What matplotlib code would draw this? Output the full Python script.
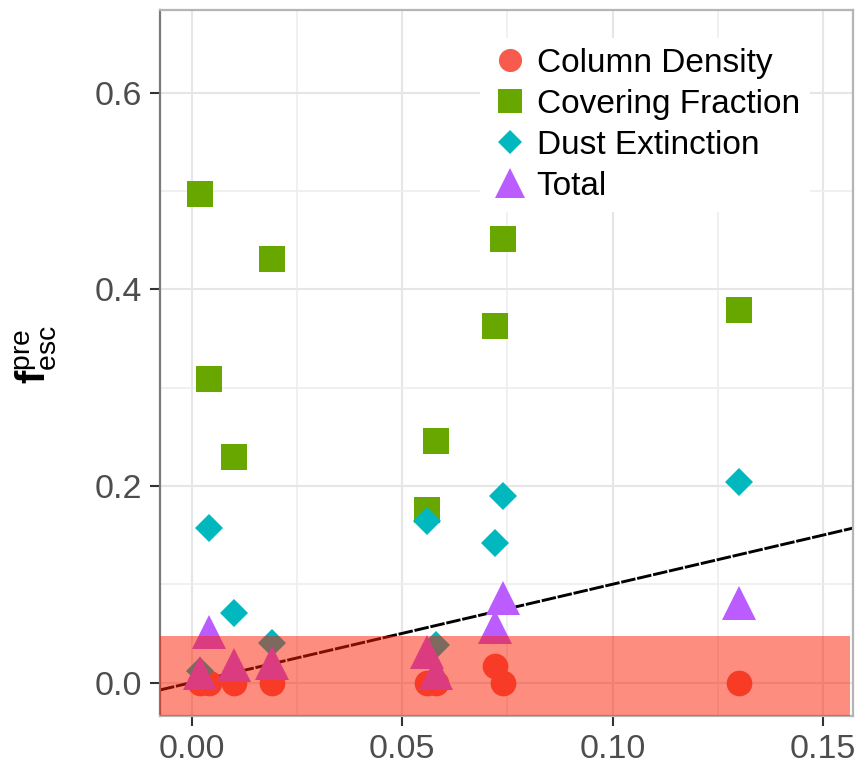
import matplotlib
matplotlib.use("Agg")
import matplotlib.pyplot as plt
from matplotlib.patches import Rectangle
from matplotlib.lines import Line2D

plt.rcParams['font.family'] = ['Liberation Sans', 'DejaVu Sans']
plt.rcParams['mathtext.fontset'] = 'custom'
plt.rcParams['mathtext.rm'] = 'Liberation Sans'
plt.rcParams['mathtext.bf'] = 'Liberation Sans:bold'

# Observed escape fraction (x) for each galaxy
x_obs = [0.002, 0.0042, 0.010, 0.019, 0.056, 0.058, 0.072, 0.074, 0.130]

# Predicted escape fraction per component
column_density = [0.0, 0.0, 0.0, 0.0, 0.0, 0.0, 0.017, 0.0, 0.0]
covering_fraction = [0.497, 0.309, 0.229, 0.431, 0.175, 0.246, 0.363, 0.451, 0.379]
dust_extinction = [0.012, 0.157, 0.071, 0.040, 0.164, 0.038, 0.142, 0.190, 0.204]
total = [0.010, 0.051, 0.018, 0.020, 0.031, 0.010, 0.057, 0.086, 0.081]

series_labels = ["Column Density", "Covering Fraction", "Dust Extinction", "Total"]

x_ticks = [0.00, 0.05, 0.10, 0.15]
x_tick_labels = ["0.00", "0.05", "0.10", "0.15"]
y_ticks = [0.0, 0.2, 0.4, 0.6]
y_tick_labels = ["0.0", "0.2", "0.4", "0.6"]

# Upper limit of the shaded region
shade_top = 0.047

colors = ["#F65B4E", "#68A600", "#00B8BE", "#BB5CFF"]
markers = ["o", "s", "D", "^"]
sizes = [18.5, 18.5, 14, 24]

fig = plt.figure(figsize=(8.58, 7.7), dpi=100)
ax = fig.add_axes([160 / 858, 54 / 770, 693 / 858, 706 / 770])

xlim = (-0.0075, 0.1571)
ylim = (-0.034, 0.684)
ax.set_xlim(*xlim)
ax.set_ylim(*ylim)

# grid
ax.set_xticks(x_ticks)
ax.set_xticklabels(x_tick_labels)
ax.set_yticks(y_ticks)
ax.set_yticklabels(y_tick_labels)
ax.set_xticks([0.025, 0.075, 0.125], minor=True)
ax.set_yticks([0.1, 0.3, 0.5], minor=True)
ax.grid(which="major", color="#E6E6E6", linewidth=1.5, zorder=0)
ax.grid(which="minor", color="#EEEEEE", linewidth=1.2, zorder=0)
ax.set_axisbelow(True)
ax.tick_params(which="minor", length=0)
ax.tick_params(which="major", length=7, width=1.5, color="#333333",
               labelsize=24.5, labelcolor="#4D4D4D", pad=6)

for side in ["top", "right", "bottom"]:
    ax.spines[side].set_color("#B5B5B5")
    ax.spines[side].set_linewidth(1.6)
ax.spines["left"].set_color("#7A7A7A")
ax.spines["left"].set_linewidth(1.6)

# 1:1 reference line
ax.axline((0, 0), slope=1, color="black", linewidth=2.1,
          dashes=(5, 0.6), zorder=2)

series = [column_density, covering_fraction, dust_extinction, total]
for vals, c, m, s in zip(series, colors, markers, sizes):
    ax.plot(x_obs, vals, linestyle="none", marker=m, markersize=s,
            color=c, markeredgewidth=0, zorder=3)

# shaded region near zero
ax.add_patch(Rectangle((xlim[0], ylim[0]), 0.1563 - xlim[0], shade_top - ylim[0],
                       facecolor="#FB1D00", alpha=0.5, edgecolor="none",
                       zorder=4))

handles = [Line2D([], [], linestyle="none", marker=m, markersize=s * 0.9,
                  color=c, markeredgewidth=0)
           for c, m, s in zip(colors, markers, sizes)]
leg = ax.legend(handles, series_labels, loc="upper left",
                bbox_to_anchor=(480 / 858, 1 - 38 / 770),
                bbox_transform=fig.transFigure, frameon=True, fontsize=24,
                handletextpad=0.2, labelspacing=0.3, borderpad=0.3,
                handlelength=1.2, borderaxespad=0)
leg.get_frame().set_facecolor("white")
leg.get_frame().set_edgecolor("none")
leg.get_frame().set_alpha(1)
leg.set_zorder(5)

fig.text(36 / 858, 1 - 355 / 770, r"$\mathbf{f}_{\mathrm{esc}}^{\mathrm{pre}}$",
         rotation=90, ha="center", va="center", fontsize=29)

fig.savefig("out.png", dpi=100)
